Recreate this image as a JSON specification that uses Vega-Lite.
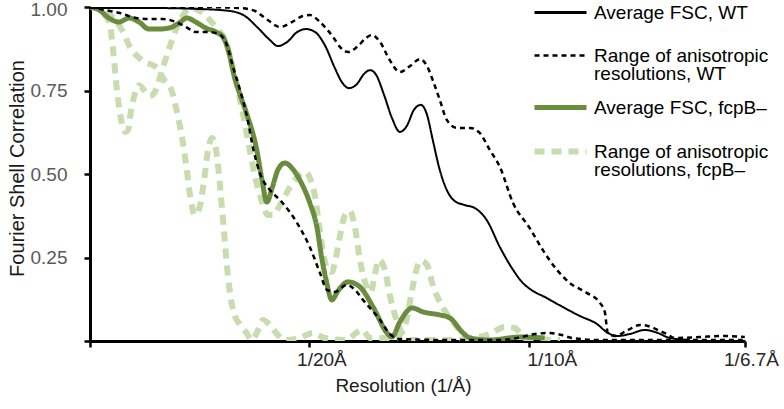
{
  "$schema": "https://vega.github.io/schema/vega-lite/v6.json",
  "width": 655,
  "height": 334,
  "autosize": {"type": "none"},
  "padding": {"left": 90, "top": 7, "right": 39, "bottom": 68},
  "background": "white",
  "config": {"view": {"stroke": null}, "font": "Liberation Sans"},
  "datasets": {
    "wa": [
      {"q":0,"f":0.997},{"q":0.0137,"f":0.997},{"q":0.0251,"f":0.994},{"q":0.0319,"f":0.988},{"q":0.0353,"f":0.973},{"q":0.0383,"f":0.937},{"q":0.041,"f":0.901},{"q":0.0428,"f":0.883},{"q":0.0449,"f":0.895},{"q":0.0472,"f":0.925},{"q":0.0492,"f":0.934},{"q":0.0513,"f":0.925},{"q":0.0535,"f":0.886},{"q":0.0558,"f":0.817},{"q":0.0574,"f":0.775},{"q":0.059,"f":0.757},{"q":0.0608,"f":0.769},{"q":0.0624,"f":0.799},{"q":0.0638,"f":0.811},{"q":0.0651,"f":0.799},{"q":0.067,"f":0.737},{"q":0.0688,"f":0.668},{"q":0.0706,"f":0.626},{"q":0.0722,"f":0.644},{"q":0.0738,"f":0.692},{"q":0.0754,"f":0.707},{"q":0.0768,"f":0.677},{"q":0.0781,"f":0.602},{"q":0.0797,"f":0.512},{"q":0.0813,"f":0.452},{"q":0.0831,"f":0.419},{"q":0.0854,"f":0.407},{"q":0.0877,"f":0.398},{"q":0.0904,"f":0.362},{"q":0.0934,"f":0.281},{"q":0.0964,"f":0.213},{"q":0.0984,"f":0.177},{"q":0.1009,"f":0.15},{"q":0.1036,"f":0.132},{"q":0.1077,"f":0.102},{"q":0.1116,"f":0.075},{"q":0.1155,"f":0.051},{"q":0.118,"f":0.024},{"q":0.1203,"f":0.015},{"q":0.123,"f":0.021},{"q":0.1264,"f":0.033},{"q":0.1294,"f":0.024},{"q":0.1321,"f":0.009},{"q":0.1367,"f":0.003}
    ],
    "wr1": [
      {"q":0,"f":1},{"q":0.0137,"f":1},{"q":0.0251,"f":1},{"q":0.0342,"f":0.997},{"q":0.0376,"f":0.988},{"q":0.0405,"f":0.961},{"q":0.0433,"f":0.94},{"q":0.046,"f":0.955},{"q":0.0485,"f":0.973},{"q":0.0501,"f":0.976},{"q":0.0524,"f":0.955},{"q":0.0554,"f":0.91},{"q":0.0572,"f":0.877},{"q":0.0588,"f":0.865},{"q":0.0608,"f":0.88},{"q":0.0629,"f":0.907},{"q":0.0642,"f":0.916},{"q":0.0661,"f":0.895},{"q":0.0683,"f":0.841},{"q":0.0706,"f":0.805},{"q":0.0729,"f":0.823},{"q":0.0752,"f":0.844},{"q":0.0768,"f":0.823},{"q":0.0781,"f":0.781},{"q":0.0797,"f":0.722},{"q":0.0813,"f":0.662},{"q":0.0836,"f":0.638},{"q":0.0866,"f":0.638},{"q":0.0888,"f":0.623},{"q":0.0911,"f":0.572},{"q":0.0934,"f":0.521},{"q":0.0964,"f":0.413},{"q":0.1002,"f":0.338},{"q":0.1032,"f":0.272},{"q":0.1064,"f":0.213},{"q":0.1093,"f":0.174},{"q":0.1132,"f":0.144},{"q":0.1162,"f":0.114},{"q":0.1173,"f":0.087},{"q":0.118,"f":0.024},{"q":0.1196,"f":0.015},{"q":0.1226,"f":0.033},{"q":0.1253,"f":0.048},{"q":0.1271,"f":0.045},{"q":0.1294,"f":0.033},{"q":0.1314,"f":0.021},{"q":0.1333,"f":0.009},{"q":0.139,"f":0.012},{"q":0.1447,"f":0.015},{"q":0.1492,"f":0.012}
    ],
    "wr2": [
      {"q":0,"f":1},{"q":0.0034,"f":0.991},{"q":0.0068,"f":0.982},{"q":0.0105,"f":0.967},{"q":0.0137,"f":0.964},{"q":0.0166,"f":0.964},{"q":0.0196,"f":0.955},{"q":0.0219,"f":0.94},{"q":0.0241,"f":0.925},{"q":0.0271,"f":0.925},{"q":0.0294,"f":0.919},{"q":0.031,"f":0.892},{"q":0.0326,"f":0.82},{"q":0.0342,"f":0.751},{"q":0.0358,"f":0.671},{"q":0.0371,"f":0.581},{"q":0.0387,"f":0.503},{"q":0.041,"f":0.452},{"q":0.0433,"f":0.422},{"q":0.0472,"f":0.353},{"q":0.0501,"f":0.281},{"q":0.0524,"f":0.204},{"q":0.054,"f":0.153},{"q":0.0558,"f":0.147},{"q":0.0585,"f":0.168},{"q":0.0604,"f":0.153},{"q":0.0622,"f":0.123},{"q":0.0642,"f":0.093},{"q":0.0661,"f":0.063},{"q":0.0683,"f":0.021},{"q":0.0706,"f":0.006},{"q":0.082,"f":0.003},{"q":0.0934,"f":0.003},{"q":0.0973,"f":0.009},{"q":0.1014,"f":0.021},{"q":0.1048,"f":0.024},{"q":0.1075,"f":0.018},{"q":0.1098,"f":0.009},{"q":0.1162,"f":0.003},{"q":0.1492,"f":0.003}
    ],
    "fa": [
      {"q":0,"f":1},{"q":0.0021,"f":0.991},{"q":0.0043,"f":0.967},{"q":0.0066,"f":0.955},{"q":0.0089,"f":0.967},{"q":0.0112,"f":0.955},{"q":0.0134,"f":0.934},{"q":0.0157,"f":0.934},{"q":0.018,"f":0.937},{"q":0.0203,"f":0.952},{"q":0.0221,"f":0.967},{"q":0.0241,"f":0.955},{"q":0.0264,"f":0.937},{"q":0.0287,"f":0.925},{"q":0.0303,"f":0.91},{"q":0.0317,"f":0.862},{"q":0.0328,"f":0.796},{"q":0.0342,"f":0.737},{"q":0.0358,"f":0.677},{"q":0.038,"f":0.572},{"q":0.0392,"f":0.482},{"q":0.0403,"f":0.416},{"q":0.0415,"f":0.458},{"q":0.0428,"f":0.512},{"q":0.0444,"f":0.533},{"q":0.046,"f":0.518},{"q":0.0478,"f":0.482},{"q":0.0501,"f":0.413},{"q":0.0517,"f":0.341},{"q":0.0528,"f":0.249},{"q":0.0538,"f":0.183},{"q":0.0551,"f":0.123},{"q":0.0565,"f":0.15},{"q":0.0588,"f":0.177},{"q":0.0615,"f":0.162},{"q":0.0645,"f":0.102},{"q":0.0677,"f":0.024},{"q":0.0688,"f":0.012},{"q":0.0706,"f":0.057},{"q":0.0734,"f":0.099},{"q":0.0759,"f":0.087},{"q":0.0797,"f":0.078},{"q":0.082,"f":0.069},{"q":0.085,"f":0.024},{"q":0.0866,"f":0.009},{"q":0.0911,"f":0.003},{"q":0.098,"f":0.012},{"q":0.1036,"f":0.009}
    ],
    "fr1": [
      {"q":0,"f":1},{"q":0.0018,"f":0.997},{"q":0.0034,"f":0.976},{"q":0.0046,"f":0.946},{"q":0.005,"f":0.901},{"q":0.0055,"f":0.841},{"q":0.0059,"f":0.781},{"q":0.0064,"f":0.722},{"q":0.0071,"f":0.662},{"q":0.008,"f":0.626},{"q":0.0087,"f":0.632},{"q":0.0093,"f":0.686},{"q":0.0103,"f":0.743},{"q":0.0112,"f":0.766},{"q":0.0123,"f":0.751},{"q":0.0137,"f":0.734},{"q":0.0148,"f":0.746},{"q":0.0159,"f":0.787},{"q":0.0173,"f":0.847},{"q":0.0187,"f":0.901},{"q":0.02,"f":0.946},{"q":0.0214,"f":0.979},{"q":0.0228,"f":0.997},{"q":0.0246,"f":0.991},{"q":0.0269,"f":0.967},{"q":0.0292,"f":0.931},{"q":0.0308,"f":0.901},{"q":0.0321,"f":0.841},{"q":0.0335,"f":0.766},{"q":0.0349,"f":0.677},{"q":0.0364,"f":0.572},{"q":0.0378,"f":0.482},{"q":0.0392,"f":0.416},{"q":0.0405,"f":0.377},{"q":0.0417,"f":0.377},{"q":0.0433,"f":0.407},{"q":0.0449,"f":0.446},{"q":0.0467,"f":0.482},{"q":0.049,"f":0.506},{"q":0.0501,"f":0.488},{"q":0.0513,"f":0.431},{"q":0.0522,"f":0.347},{"q":0.0531,"f":0.266},{"q":0.0542,"f":0.213},{"q":0.0551,"f":0.207},{"q":0.056,"f":0.249},{"q":0.057,"f":0.317},{"q":0.0581,"f":0.377},{"q":0.0592,"f":0.389},{"q":0.0604,"f":0.338},{"q":0.0615,"f":0.243},{"q":0.0629,"f":0.168},{"q":0.064,"f":0.147},{"q":0.0649,"f":0.198},{"q":0.0658,"f":0.243},{"q":0.0672,"f":0.213},{"q":0.0683,"f":0.138},{"q":0.0697,"f":0.069},{"q":0.0711,"f":0.024},{"q":0.0729,"f":0.003},{"q":0.0866,"f":0.003}
    ],
    "fr2": [
      {"q":0,"f":1},{"q":0.0023,"f":0.997},{"q":0.0046,"f":0.976},{"q":0.0073,"f":0.931},{"q":0.0091,"f":0.88},{"q":0.0118,"f":0.841},{"q":0.0153,"f":0.817},{"q":0.0166,"f":0.787},{"q":0.0187,"f":0.746},{"q":0.0198,"f":0.686},{"q":0.021,"f":0.608},{"q":0.0219,"f":0.527},{"q":0.0228,"f":0.437},{"q":0.0239,"f":0.377},{"q":0.0251,"f":0.407},{"q":0.026,"f":0.482},{"q":0.0269,"f":0.572},{"q":0.0278,"f":0.608},{"q":0.0289,"f":0.557},{"q":0.0296,"f":0.467},{"q":0.0305,"f":0.332},{"q":0.0314,"f":0.198},{"q":0.0326,"f":0.093},{"q":0.0342,"f":0.048},{"q":0.0355,"f":0.027},{"q":0.0369,"f":0.003},{"q":0.0383,"f":0.033},{"q":0.0394,"f":0.063},{"q":0.041,"f":0.048},{"q":0.0428,"f":0.018},{"q":0.0444,"f":0.003},{"q":0.0478,"f":0.009},{"q":0.0508,"f":0.024},{"q":0.0535,"f":0.009},{"q":0.0581,"f":0.003},{"q":0.062,"f":0.033},{"q":0.0638,"f":0.009},{"q":0.0695,"f":0.009},{"q":0.0718,"f":0.048},{"q":0.0734,"f":0.153},{"q":0.0745,"f":0.219},{"q":0.0754,"f":0.24},{"q":0.0768,"f":0.228},{"q":0.0781,"f":0.168},{"q":0.0797,"f":0.117},{"q":0.082,"f":0.069},{"q":0.0838,"f":0.039},{"q":0.0861,"f":0.009},{"q":0.0911,"f":0.021},{"q":0.0945,"f":0.042},{"q":0.0968,"f":0.039},{"q":0.0991,"f":0.009},{"q":0.1071,"f":0.003}
    ]
  },
  "data": {"name": "wa"},
  "layer": [
    {
      "data": {"name": "fr1"},
      "transform": [{"calculate": "'fr'", "as": "s"}],
      "mark": {"type": "line", "interpolate": "monotone", "clip": true, "strokeWidth": 6}
    },
    {
      "data": {"name": "fr2"},
      "transform": [{"calculate": "'fr'", "as": "s"}],
      "mark": {"type": "line", "interpolate": "monotone", "clip": true, "strokeWidth": 6}
    },
    {
      "data": {"name": "fa"},
      "transform": [{"calculate": "'fa'", "as": "s"}],
      "mark": {"type": "line", "interpolate": "monotone", "clip": true, "strokeWidth": 5}
    },
    {
      "data": {"name": "wr1"},
      "transform": [{"calculate": "'wr'", "as": "s"}],
      "mark": {"type": "line", "interpolate": "monotone", "clip": true, "strokeWidth": 2.5}
    },
    {
      "data": {"name": "wr2"},
      "transform": [{"calculate": "'wr'", "as": "s"}],
      "mark": {"type": "line", "interpolate": "monotone", "clip": true, "strokeWidth": 2.5}
    },
    {
      "data": {"name": "wa"},
      "transform": [{"calculate": "'wa'", "as": "s"}],
      "mark": {"type": "line", "interpolate": "monotone", "clip": true, "strokeWidth": 2}
    }
  ],
  "encoding": {
    "x": {
      "field": "q", "type": "quantitative",
      "scale": {"domain": [0, 0.14925], "nice": false, "zero": false},
      "axis": {
        "values": [0, 0.05, 0.1, 0.14925],
        "labelExpr": "datum.value == 0 ? '' : datum.value == 0.05 ? '1/20Å' : datum.value == 0.1 ? '1/10Å' : '1/6.7Å'",
        "domainColor": "#000", "domainWidth": 3, "tickColor": "#000", "tickWidth": 2.5, "tickSize": 6,
        "labelFont": "Liberation Sans", "labelFontSize": 19, "labelColor": "#262626", "labelPadding": 3,
        "labelFlush": false, "labelOverlap": false, "labelBound": false, "grid": false,
        "labelOffset": {"condition": [{"test": "datum.value == 0.05", "value": 12}, {"test": "datum.value == 0.1", "value": 23}], "value": 6},
        "title": "Resolution (1/Å)", "titleFont": "Liberation Sans", "titleFontSize": 19, "titleFontWeight": "normal", "titleColor": "#1a1a1a",
        "titleX": 313, "titleY": 44, "titleAlign": "center", "titleBaseline": "middle", "titleAnchor": null
      }
    },
    "y": {
      "field": "f", "type": "quantitative",
      "scale": {"domain": [0, 1], "nice": false},
      "axis": {
        "values": [0, 0.25, 0.5, 0.75, 1],
        "labelExpr": "datum.value == 0 ? '' : format(datum.value, '.2f')",
        "domainColor": "#000", "domainWidth": 3, "tickColor": "#000", "tickWidth": 2.5, "tickSize": 6,
        "labelFont": "Liberation Sans", "labelFontSize": 19, "labelColor": "#595959", "labelPadding": 17, "grid": false,
        "labelOffset": {"condition": {"test": "datum.value == 1", "value": 2}, "value": 0},
        "title": "Fourier Shell Correlation", "titleFont": "Liberation Sans", "titleFontSize": 20, "titleFontWeight": "normal", "titleColor": "#1a1a1a",
        "titleX": -73, "titleY": 161, "titleAngle": -90, "titleAlign": "center", "titleBaseline": "middle", "titleAnchor": null
      }
    },
    "color": {
      "field": "s", "type": "nominal",
      "scale": {"domain": ["wa", "wr", "fa", "fr"], "range": ["#000000", "#000000", "#6a8c3e", "#c8dcaf"]},
      "legend": {
        "title": null, "orient": "none", "legendX": 461, "legendY": -4,
        "symbolType": "stroke", "symbolSize": 2704, "labelOffset": 24, "rowPadding": 13, "padding": 0,
        "labelFont": "Liberation Sans", "labelFontSize": 19, "labelColor": "#000", "labelLimit": 300,
        "labelExpr": "datum.value == 'wa' ? ['Average FSC, WT', ' '] : datum.value == 'wr' ? ['Range of anisotropic', 'resolutions, WT'] : datum.value == 'fa' ? ['Average FSC, fcpB–', ' '] : ['Range of anisotropic', 'resolutions, fcpB–']",
        "encode": {
          "labels": {"update": {"lineHeight": {"signal": "datum.value == 'wa' ? 10 : datum.value == 'fa' ? 8 : 18"}}},
          "symbols": {"update": {"strokeWidth": {"signal": "datum.value == 'fa' ? 5 : datum.value == 'fr' ? 6 : datum.value == 'wr' ? 2.5 : 3"}}}
        }
      }
    },
    "strokeDash": {
      "field": "s", "type": "nominal",
      "scale": {"domain": ["wa", "wr", "fa", "fr"], "range": [[1, 0], [5, 4], [1, 0], [10, 7]]},
      "legend": {
        "title": null, "orient": "none", "legendX": 461, "legendY": -4,
        "symbolType": "stroke", "symbolSize": 2704, "labelOffset": 24, "rowPadding": 13, "padding": 0,
        "labelFont": "Liberation Sans", "labelFontSize": 19, "labelColor": "#000", "labelLimit": 300,
        "labelExpr": "datum.value == 'wa' ? ['Average FSC, WT', ' '] : datum.value == 'wr' ? ['Range of anisotropic', 'resolutions, WT'] : datum.value == 'fa' ? ['Average FSC, fcpB–', ' '] : ['Range of anisotropic', 'resolutions, fcpB–']",
        "encode": {
          "labels": {"update": {"lineHeight": {"signal": "datum.value == 'wa' ? 10 : datum.value == 'fa' ? 8 : 18"}}},
          "symbols": {"update": {"strokeWidth": {"signal": "datum.value == 'fa' ? 5 : datum.value == 'fr' ? 6 : datum.value == 'wr' ? 2.5 : 3"}}}
        }
      }
    }
  }
}
